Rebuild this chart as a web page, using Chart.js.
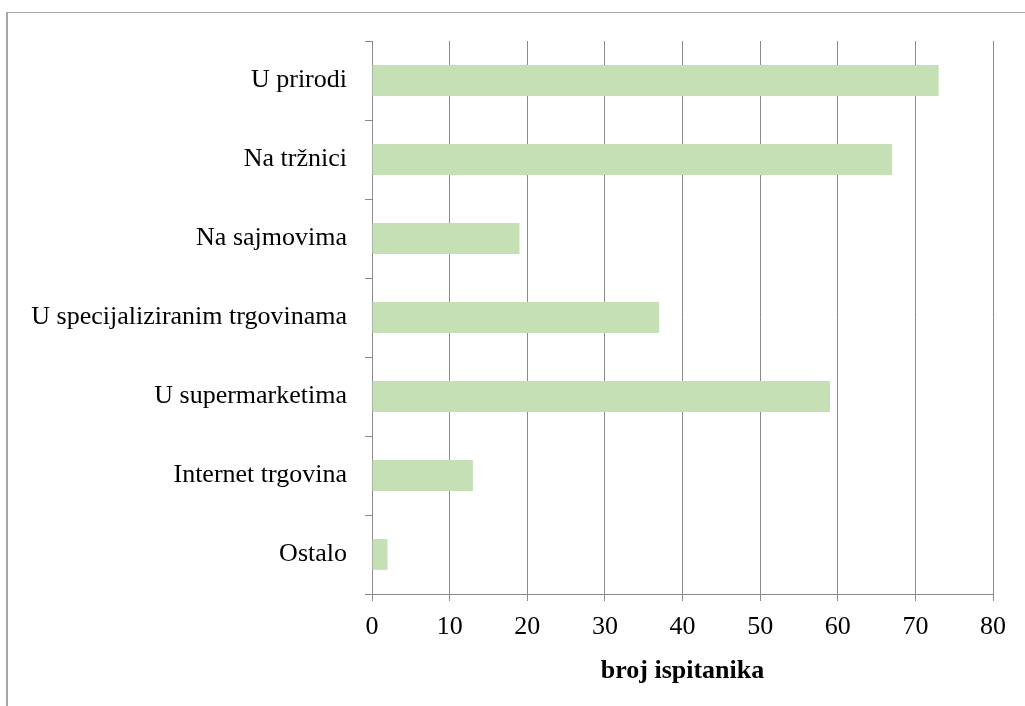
<!DOCTYPE html>
<html>
<head>
<meta charset="utf-8">
<script src="https://cdn.jsdelivr.net/npm/chart.js@4.4.0/dist/chart.umd.min.js"></script>
<style>
  html, body { margin: 0; padding: 0; background: #fff; }
  #frame { position: absolute; left: 6px; top: 12px; width: 1040px; height: 720px; border: 1px solid #a6a6a6; border-left: 2px solid #a6a6a6; box-sizing: border-box; }
  #wrap { position: absolute; left: 0; top: 0; width: 1025px; height: 706px; }
</style>
</head>
<body>
<div id="frame"></div>
<div id="wrap"><canvas id="c" width="1025" height="706"></canvas></div>
<script>
const categories = ["U prirodi", "Na tržnici", "Na sajmovima", "U specijaliziranim trgovinama", "U supermarketima", "Internet trgovina", "Ostalo"];
const values = [73, 67, 19, 37, 59, 13, 2];
const xTicks = [0, 10, 20, 30, 40, 50, 60, 70, 80];
const xTitle = "broj ispitanika";

const FONT = "'Liberation Serif', 'Times New Roman', serif";
const GRID = '#8a8a8a';

new Chart(document.getElementById('c'), {
  type: 'bar',
  data: {
    labels: categories,
    datasets: [{
      data: values,
      backgroundColor: '#c5e0b4',
      borderWidth: 0,
      categoryPercentage: 1,
      barPercentage: 0.39
    }]
  },
  options: {
    indexAxis: 'y',
    responsive: false,
    animation: false,
    devicePixelRatio: 1,
    layout: { padding: { left: 0, right: 32, top: 41, bottom: 12 } },
    plugins: { legend: { display: false }, tooltip: { enabled: false } },
    scales: {
      x: {
        min: xTicks[0],
        max: xTicks[xTicks.length - 1],
        afterBuildTicks: (s) => { s.ticks = xTicks.map(v => ({ value: v })); },
        afterFit: (s) => { s.height = 100; },
        ticks: { font: { family: FONT, size: 26 }, color: '#000', padding: 11 },
        grid: { color: GRID, lineWidth: 1, tickLength: 7 },
        border: { color: GRID, width: 1 },
        title: { display: true, text: xTitle, font: { family: FONT, size: 26, weight: 'bold' }, color: '#000', padding: { top: 0, bottom: 7 } }
      },
      y: {
        afterFit: (s) => { s.width = 372; },
        ticks: { font: { family: FONT, size: 26 }, color: '#000', padding: 18 },
        grid: { offset: true, drawOnChartArea: false, color: GRID, lineWidth: 1, tickLength: 7 },
        border: { color: GRID, width: 1 }
      }
    }
  }
});
</script>
</body>
</html>
